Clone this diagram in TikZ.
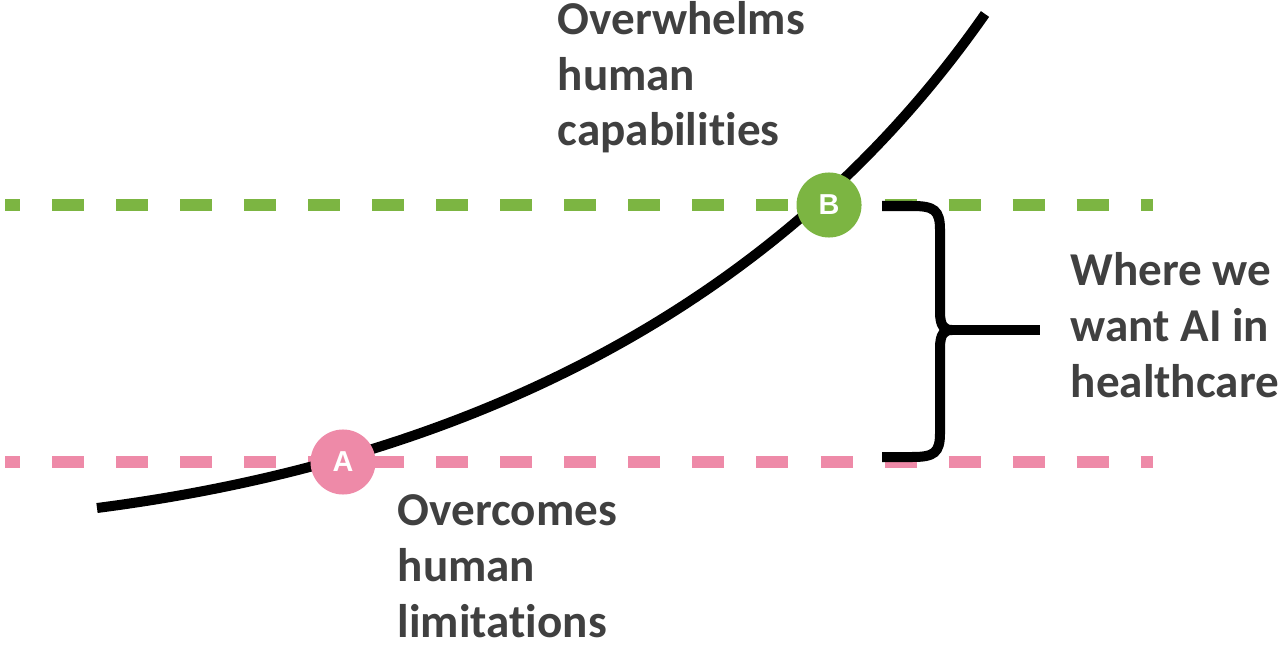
\documentclass[tikz,border=0pt]{standalone}
\usepackage{fontspec}
\setmainfont[Ligatures={NoCommon}]{Carlito}
\newfontfamily\letterfont{Liberation Sans}
\definecolor{bgreen}{RGB}{124,181,66}
\definecolor{apink}{RGB}{238,138,168}
\definecolor{labelgray}{RGB}{64,64,64}

\begin{document}
\begin{tikzpicture}[x=0.01cm, y=-0.01cm]
\useasboundingbox (0,0) rectangle (1280,646);

\coordinate (pinkL) at (5,462);
\coordinate (pinkR) at (1153,462);
\coordinate (greenL) at (5,205);
\coordinate (greenR) at (1153,205);

\begin{scope}[line width=0.115cm, dash pattern=on 0.32cm off 0.32cm, dash phase=0.17cm]
    \draw[apink] (pinkL) -- (pinkR);
    \draw[bgreen] (greenL) -- (greenR);
\end{scope}

\coordinate (curvestart) at (97,508);
\coordinate (curveend) at (985,14);
\draw[line width=0.1cm] (curvestart) .. controls (530,452) and (812,262) .. (curveend);

\begin{scope}[every node/.style={circle, minimum size=0.65cm, inner sep=0, text=white, font=\letterfont\bfseries\fontsize{8.2}{10}\selectfont}]
    \node[fill=apink] (A) at (343,462) {A};
    \node[fill=bgreen] (B) at (829,205) {B};
\end{scope}

% brace
\coordinate (bracetop) at (882,206);
\coordinate (bracebot) at (882,457);
\coordinate (bracetip) at (1040,330);
\begin{scope}[line width=0.1cm]
    \draw (bracetop) -- ++(30,0) .. controls +(22,0) and +(0,-20) .. ++(28,24) -- (940,312) .. controls (940,326) and (944,330) .. (952,330);
    \draw (bracebot) -- ++(30,0) .. controls +(22,0) and +(0,20) .. ++(28,-24) -- (940,348) .. controls (940,334) and (944,330) .. (952,330);
    \draw (952,330) -- (bracetip);
\end{scope}

\begin{scope}[every node/.style={anchor=base west, align=left, inner sep=0, text=labelgray, font=\bfseries\fontsize{13.4}{15.8}\selectfont}]
    \node (upper) at (557,146) {Overwhelms\\human\\capabilities};
    \node (where) at (1070,397) {Where we\\want AI in\\healthcare};
    \node (lower) at (397,637) {Overcomes\\human\\limitations};
\end{scope}

\end{tikzpicture}
\end{document}
